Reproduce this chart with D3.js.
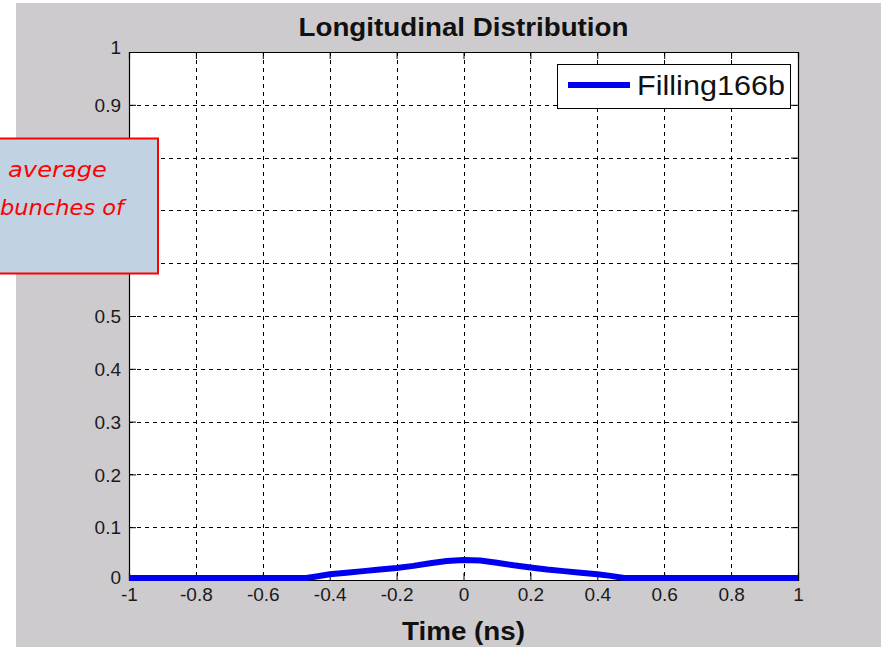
<!DOCTYPE html>
<html>
<head>
<meta charset="utf-8">
<script src="https://cdn.jsdelivr.net/npm/d3@7"></script>
<style>
  html, body { margin: 0; padding: 0; background: #ffffff; }
  svg { display: block; }
</style>
</head>
<body>
<svg id="chart" width="881" height="647"></svg>
<script>
// Longitudinal bunch profile (time in ns, normalised density)
const timeNs  = [-1, -0.6, -0.47, -0.44, -0.4, -0.35, -0.3, -0.25, -0.2, -0.15, -0.1, -0.05, 0, 0.05, 0.1, 0.15, 0.2, 0.25, 0.3, 0.35, 0.4, 0.44, 0.48, 0.6, 1];
const density = [0, 0, 0, 0.003, 0.007, 0.010, 0.013, 0.016, 0.019, 0.023, 0.028, 0.032, 0.034, 0.033, 0.029, 0.024, 0.020, 0.016, 0.013, 0.010, 0.007, 0.004, 0, 0, 0];

const seriesName = "Filling166b";
const xTicks = [-1, -0.8, -0.6, -0.4, -0.2, 0, 0.2, 0.4, 0.6, 0.8, 1];
const yTicks = [0, 0.1, 0.2, 0.3, 0.4, 0.5, 0.6, 0.7, 0.8, 0.9, 1];
const titleText = "Longitudinal Distribution";
const xLabel = "Time (ns)";
const noteLines = ["average", "bunches of"];

const svg = d3.select("#chart");
const font = "Liberation Sans, Arial, Helvetica, sans-serif";
const fmt = d => String(d); // plain hyphen-minus, no unicode minus

// figure background
svg.append("rect").attr("x", 16).attr("y", 3).attr("width", 865).attr("height", 644)
  .attr("fill", "#cdcbce");

const plot = { left: 129, right: 798, top: 52, bottom: 580 };
const x = d3.scaleLinear().domain([-1, 1]).range([plot.left, plot.right]);
const y = d3.scaleLinear().domain([0, 1]).range([plot.bottom, plot.top]);

// axes area
svg.append("rect")
  .attr("x", plot.left).attr("y", plot.top)
  .attr("width", plot.right - plot.left).attr("height", plot.bottom - plot.top)
  .attr("fill", "#ffffff");

// dotted grid
const grid = svg.append("g").attr("stroke", "#000").attr("stroke-width", 1)
  .attr("stroke-dasharray", "4,4").attr("shape-rendering", "crispEdges");
grid.selectAll(".gx").data(xTicks.slice(1, -1)).join("line")
  .attr("x1", d => Math.round(x(d)) + 0.5).attr("x2", d => Math.round(x(d)) + 0.5)
  .attr("y1", plot.top).attr("y2", plot.bottom);
grid.selectAll(".gy").data(yTicks.slice(1, -1)).join("line")
  .attr("y1", d => Math.round(y(d)) + 0.5).attr("y2", d => Math.round(y(d)) + 0.5)
  .attr("x1", plot.left).attr("x2", plot.right);

// axes with inward ticks on all four sides
const tickLen = 7;
const bottomAxis = svg.append("g").attr("transform", `translate(0,${plot.bottom})`)
  .call(d3.axisBottom(x).tickValues(xTicks).tickSize(-tickLen).tickPadding(10).tickFormat(fmt));
const topAxis = svg.append("g").attr("transform", `translate(0,${plot.top})`)
  .call(d3.axisTop(x).tickValues(xTicks).tickSize(-tickLen).tickFormat(""));
const leftAxis = svg.append("g").attr("transform", `translate(${plot.left},0)`)
  .call(d3.axisLeft(y).tickValues(yTicks).tickSize(-tickLen).tickPadding(8).tickFormat(fmt));
const rightAxis = svg.append("g").attr("transform", `translate(${plot.right},0)`)
  .call(d3.axisRight(y).tickValues(yTicks).tickSize(-tickLen).tickFormat(""));

[bottomAxis, topAxis, leftAxis, rightAxis].forEach(g => {
  g.attr("font-size", 19).attr("font-family", font);
  g.select(".domain").attr("stroke", "#000").attr("stroke-width", 1.2);
  g.selectAll(".tick line").attr("stroke", "#000").attr("stroke-width", 1);
  g.selectAll("text").attr("fill", "#1a1a1a");
  g.selectAll(".tick").filter((d, i, n) => i === 0 || i === n.length - 1).select("line").remove();
});
leftAxis.selectAll(".tick text").attr("dy", "0.35em");
leftAxis.selectAll(".tick").filter(d => d === 1).select("text").attr("dy", "0.1em");
leftAxis.selectAll(".tick").filter(d => d === 0).select("text").attr("dy", "0.2em");
bottomAxis.selectAll(".tick text").attr("dy", "0.6em");

// profile line
const pts = timeNs.map((t, i) => [t, density[i]]);
svg.append("path").datum(pts)
  .attr("fill", "none").attr("stroke", "#0000ee").attr("stroke-width", 6)
  .attr("stroke-linejoin", "miter")
  .attr("d", d3.line().x(d => x(d[0])).y(d => y(d[1]) - 2));

// title and x label
svg.append("text").attr("x", (plot.left + plot.right) / 2).attr("y", 36)
  .attr("text-anchor", "middle").attr("font-family", font).attr("font-weight", "bold")
  .attr("font-size", 26).attr("fill", "#111")
  .attr("textLength", 330).attr("lengthAdjust", "spacingAndGlyphs").text(titleText);
svg.append("text").attr("x", (plot.left + plot.right) / 2).attr("y", 640)
  .attr("text-anchor", "middle").attr("font-family", font).attr("font-weight", "bold")
  .attr("font-size", 26).attr("fill", "#111")
  .attr("textLength", 123).attr("lengthAdjust", "spacingAndGlyphs").text(xLabel);

// legend
const lg = svg.append("g");
lg.append("rect").attr("x", 557.5).attr("y", 64.5).attr("width", 233).attr("height", 44)
  .attr("fill", "#fff").attr("stroke", "#000").attr("stroke-width", 1);
lg.append("line").attr("x1", 568).attr("x2", 630).attr("y1", 85).attr("y2", 85)
  .attr("stroke", "#0000ee").attr("stroke-width", 6);
lg.append("text").attr("x", 637).attr("y", 95).attr("font-family", font)
  .attr("font-size", 27).attr("fill", "#111")
  .attr("textLength", 148).attr("lengthAdjust", "spacingAndGlyphs").text(seriesName);

// annotation box
svg.append("rect").attr("x", -2).attr("y", 138.5).attr("width", 160).attr("height", 135)
  .attr("fill", "#c1d3e3").attr("stroke", "#ff0000").attr("stroke-width", 2);
svg.selectAll(".note").data(noteLines).join("text")
  .attr("x", (d, i) => i === 0 ? 8 : 0)
  .attr("y", (d, i) => i === 0 ? 177 : 215)
  .attr("font-family", "'DejaVu Sans', sans-serif").attr("font-style", "italic")
  .attr("font-size", 22).attr("fill", "#ff0000")
  .attr("textLength", (d, i) => i === 0 ? 99 : 124).attr("lengthAdjust", "spacingAndGlyphs")
  .text(d => d);
</script>
</body>
</html>
